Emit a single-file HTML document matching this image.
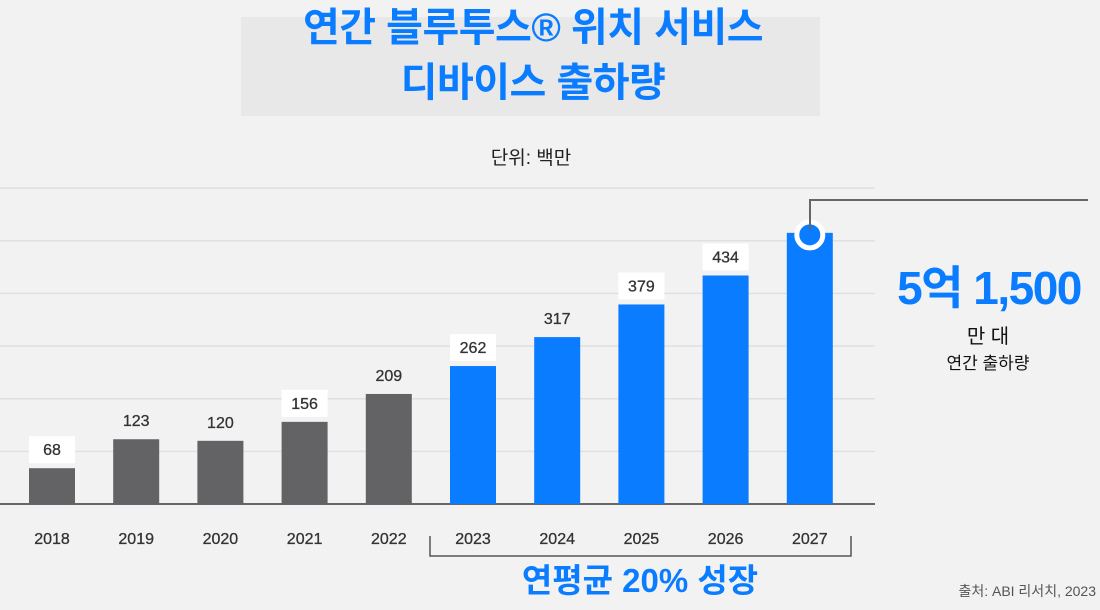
<!DOCTYPE html>
<html><head><meta charset="utf-8"><style>
body{margin:0;width:1100px;height:605px;background:#f2f2f2;overflow:hidden;font-family:"Liberation Sans","Noto Sans CJK KR",sans-serif;}
</style></head><body>
<svg width="1100" height="605" viewBox="0 0 1100 605" id="chart" style="font-family:'Liberation Sans','Noto Sans CJK KR',sans-serif">
<rect x="241" y="17" width="579" height="99" fill="#e8e8e8"/>
<text x="533" y="41" text-anchor="middle" font-size="40" font-weight="bold" fill="#0a7cff" letter-spacing="-0.5">연간 블루투스® 위치 서비스</text>
<text x="533" y="96" text-anchor="middle" font-size="40" font-weight="bold" fill="#0a7cff" letter-spacing="-0.5">디바이스 출하량</text>
<text x="531" y="164" text-anchor="middle" font-size="19" fill="#222">단위: 백만</text>
<g id="grid"></g><g id="bars"></g>
<path d="M810 230 V200 H1088" fill="none" stroke="#666" stroke-width="2"/>
<text x="989" y="304" text-anchor="middle" font-size="46" font-weight="bold" fill="#0a7cff" letter-spacing="-1.5">5억 1,500</text>
<text x="988" y="343" text-anchor="middle" font-size="20" fill="#111">만 대</text>
<text x="988" y="369" text-anchor="middle" font-size="17" fill="#111">연간 출하량</text>
<path d="M430 536 V556 H851 V536" fill="none" stroke="#555" stroke-width="1.5"/>
<text x="640" y="592" text-anchor="middle" font-size="33" font-weight="bold" fill="#0a7cff">연평균 20% 성장</text>
<text x="1096" y="596" text-anchor="end" font-size="14" fill="#555">출처: ABI 리서치, 2023</text>
</svg>
<script>
const years=["2018","2019","2020","2021","2022","2023","2024","2025","2026","2027"];
const values=[68,123,120,156,209,262,317,379,434,515];
const labels=["68","123","120","156","209","262","317","379","434",""];
const boxed=[true,false,false,true,false,true,false,true,true,false];
const forecast=[false,false,false,false,false,true,true,true,true,true];
const gridTicks=[100,200,300,400,500,600];
const NS="http://www.w3.org/2000/svg";
const base=504,scale=0.5265;
const y=v=>base-v*scale;
const x=i=>52+i*84.2;
function mk(t,a,p){const e=document.createElementNS(NS,t);for(const k in a)e.setAttribute(k,a[k]);p.appendChild(e);return e;}
const g=document.getElementById('grid'),b=document.getElementById('bars');
gridTicks.forEach(t=>{const l=mk('line',{x1:0,x2:875,y1:y(t),y2:y(t),stroke:'#e0e0e0','stroke-width':1.5},g);

});
const ax=mk('line',{x1:0,x2:875,y1:base,y2:base,stroke:'#666','stroke-width':2},g);


values.forEach((v,i)=>{
const c=x(i),col=forecast[i]?'#0a7cff':'#636366';
const r=mk('rect',{x:c-23,y:y(v),width:46,height:v*scale,fill:col},b);


const t=mk('text',{x:c,y:base+40,'text-anchor':'middle','font-size':16,fill:'#333',stroke:'#333','stroke-width':0.3},b);t.textContent=years[i];


if(labels[i]){
const ty=y(v)-10;
if(boxed[i]){const bx=mk('rect',{x:c-23,y:ty-22,width:46,height:27,fill:'#fff'},b);

}
const lt=mk('text',{x:c,y:ty-3,'text-anchor':'middle','font-size':16,fill:'#333',stroke:'#333','stroke-width':0.3},b);lt.textContent=labels[i];

}
if(i===values.length-1){
const d=mk('circle',{cx:c,cy:y(v)+2,r:13,fill:'#0a7cff',stroke:'#fff','stroke-width':5},b);

}
});
</script>
</body></html>
